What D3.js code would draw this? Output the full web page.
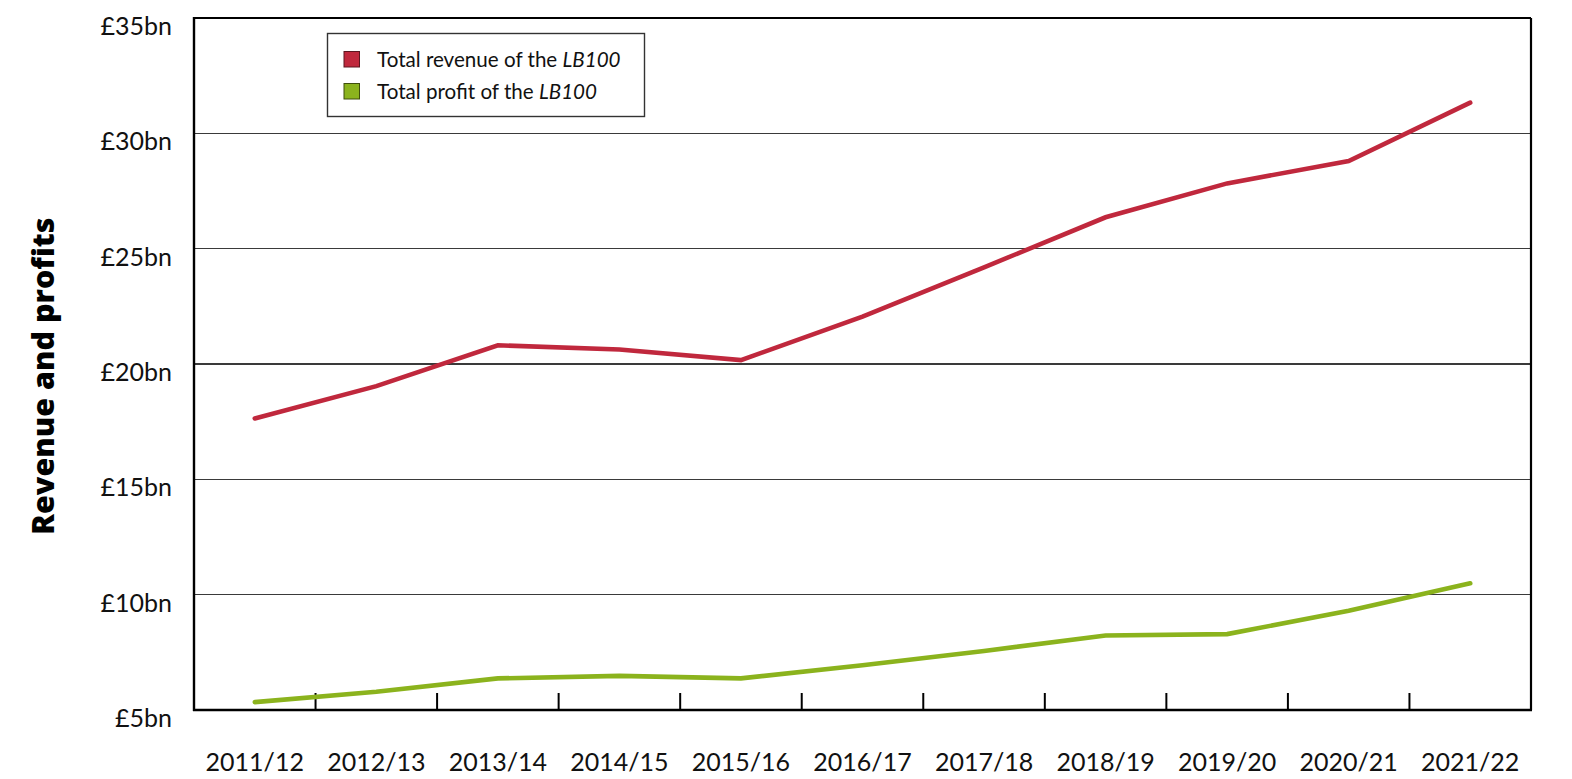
<!DOCTYPE html>
<html>
<head>
<meta charset="utf-8">
<script src="https://cdn.jsdelivr.net/npm/d3@7"></script>
<style>
  html, body { margin: 0; padding: 0; background: #ffffff; }
  svg { display: block; font-family: Lato, "Noto Sans", sans-serif; }
</style>
</head>
<body>
<svg id="chart" width="1572" height="779"></svg>
<script>
// Financial years on the x axis
const years = ["2011/12", "2012/13", "2013/14", "2014/15", "2015/16", "2016/17",
               "2017/18", "2018/19", "2019/20", "2020/21", "2021/22"];

// Totals for the LB100, in £bn
const revenue = [17.64, 19.04, 20.81, 20.63, 20.17, 22.05, 24.19, 26.36, 27.83, 28.80, 31.33];
const profit  = [5.34, 5.79, 6.37, 6.48, 6.37, 6.94, 7.56, 8.23, 8.29, 9.30, 10.49];

// Value axis ticks (£bn)
const yTicks = [5, 10, 15, 20, 25, 30, 35];

const seriesNames = ["Total revenue of the ", "Total profit of the "];
const seriesColors = ["#c0283d", "#8bb31d"];
const seriesBorders = ["#5c1620", "#3f4f0c"];

const svg = d3.select("#chart");
const plotLeft = 194, plotRight = 1531, plotTop = 18, plotBottom = 710;

const x = d3.scaleBand().domain(years).range([plotLeft, plotRight]).padding(0);
const y = d3.scaleLinear().domain([5, 35]).range([plotBottom, plotTop]);

// Horizontal gridlines
svg.append("g")
  .selectAll("line")
  .data(yTicks.filter(d => d > 5 && d < 35))
  .join("line")
  .attr("x1", plotLeft).attr("x2", plotRight)
  .attr("y1", d => y(d)).attr("y2", d => y(d))
  .attr("stroke", "#3a3a3a")
  .attr("stroke-width", 1.2)
  .attr("shape-rendering", "crispEdges");

// Y tick labels
svg.append("g")
  .selectAll("text")
  .data(yTicks)
  .join("text")
  .attr("x", 172)
  .attr("y", d => y(d) + 17)
  .attr("text-anchor", "end")
  .attr("font-size", 25)
  .attr("fill", "#111")
  .text(d => "£" + d + "bn");

// X tick marks at the band boundaries (interior only)
svg.append("g")
  .selectAll("line")
  .data(years.slice(1))
  .join("line")
  .attr("x1", d => x(d)).attr("x2", d => x(d))
  .attr("y1", plotBottom).attr("y2", plotBottom - 17)
  .attr("stroke", "#000")
  .attr("stroke-width", 2);

// X tick labels
svg.append("g")
  .selectAll("text")
  .data(years)
  .join("text")
  .attr("x", d => x(d) + x.bandwidth() / 2)
  .attr("y", 771)
  .attr("text-anchor", "middle")
  .attr("font-size", 25)
  .attr("fill", "#111")
  .text(d => d);

// Plot frame
svg.append("line").attr("x1", plotLeft).attr("x2", plotRight).attr("y1", plotTop).attr("y2", plotTop)
  .attr("stroke", "#000").attr("stroke-width", 2);
svg.append("line").attr("x1", plotRight).attr("x2", plotRight).attr("y1", plotTop).attr("y2", plotBottom)
  .attr("stroke", "#000").attr("stroke-width", 2.2);
svg.append("line").attr("x1", plotLeft).attr("x2", plotLeft).attr("y1", plotTop - 1).attr("y2", plotBottom + 1)
  .attr("stroke", "#000").attr("stroke-width", 2.4);
svg.append("line").attr("x1", plotLeft - 1).attr("x2", plotRight + 1).attr("y1", plotBottom).attr("y2", plotBottom)
  .attr("stroke", "#000").attr("stroke-width", 2.6);

// Series lines
const line = d3.line()
  .x((d, i) => x(years[i]) + x.bandwidth() / 2)
  .y(d => y(d));

[revenue, profit].forEach((vals, k) => {
  svg.append("path")
    .datum(vals)
    .attr("d", line)
    .attr("fill", "none")
    .attr("stroke", seriesColors[k])
    .attr("stroke-width", 4.6)
    .attr("stroke-linecap", "round")
    .attr("stroke-linejoin", "miter");
});

// Legend
const legend = svg.append("g");
legend.append("rect")
  .attr("x", 327.5).attr("y", 33.5).attr("width", 317).attr("height", 83)
  .attr("fill", "#fff").attr("stroke", "#333").attr("stroke-width", 1.4);

seriesNames.forEach((name, k) => {
  const cy = 59.5 + k * 32;
  legend.append("rect")
    .attr("x", 344).attr("y", cy - 8).attr("width", 15.5).attr("height", 15.5)
    .attr("fill", seriesColors[k]).attr("stroke", seriesBorders[k]).attr("stroke-width", 1);
  const t = legend.append("text")
    .attr("x", 377).attr("y", cy + 7)
    .attr("font-size", 20.6)
    .attr("fill", "#111");
  t.append("tspan").text(name);
  t.append("tspan").attr("font-style", "italic").text("LB100");
});

// Y axis title
svg.append("text")
  .attr("transform", "translate(54,376) rotate(-90)")
  .attr("text-anchor", "middle")
  .attr("font-family", "'Open Sans', Lato, sans-serif")
  .attr("font-size", 30.5)
  .attr("font-weight", 800)
  .attr("fill", "#000")
  .text("Revenue and profits");
</script>
</body>
</html>
